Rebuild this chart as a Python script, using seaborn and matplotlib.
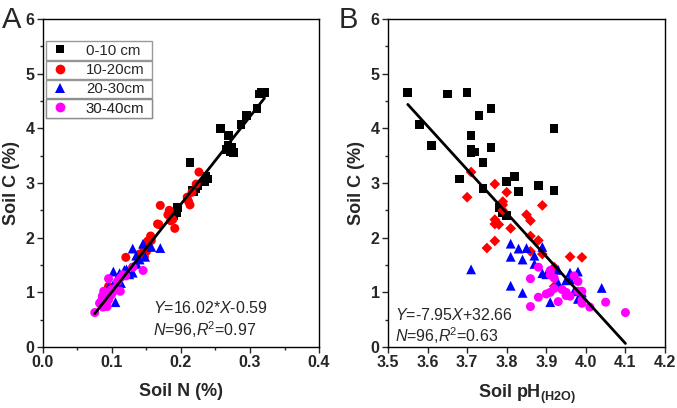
import numpy as np
import pandas as pd
import matplotlib
matplotlib.use("Agg")
import matplotlib.pyplot as plt
from matplotlib.lines import Line2D
from matplotlib.ticker import MultipleLocator
import seaborn as sns

sns.set_style("white")
plt.rcParams['font.family'] = ['Liberation Sans', 'DejaVu Sans']
plt.rcParams['mathtext.fontset'] = 'custom'
plt.rcParams['mathtext.rm'] = 'Liberation Sans'
plt.rcParams['mathtext.it'] = 'Liberation Sans:italic'
plt.rcParams['mathtext.bf'] = 'Liberation Sans:bold'

# ---------------- data ----------------
depths = ["0-10 cm", "10-20cm", "20-30cm", "30-40cm"]

c_0_10 = [4.65, 4.65, 4.63, 4.36, 4.23, 4.07, 4.00, 3.87, 3.69, 3.65, 3.61, 3.57,
          3.56, 3.37, 3.12, 3.07, 3.03, 2.95, 2.90, 2.86, 2.84, 2.55, 2.45, 2.41]
n_0_10 = [0.321, 0.316, 0.314, 0.310, 0.295, 0.287, 0.257, 0.269, 0.268, 0.274, 0.266, 0.272,
          0.276, 0.213, 0.236, 0.239, 0.235, 0.224, 0.222, 0.216, 0.218, 0.195, 0.194, 0.190]
ph_0_10 = [3.55, 3.70, 3.65, 3.76, 3.73, 3.58, 3.92, 3.71, 3.61, 3.76, 3.71, 3.72,
           3.71, 3.74, 3.82, 3.68, 3.80, 3.88, 3.74, 3.92, 3.83, 3.78, 3.79, 3.80]

c_10_20 = [3.20, 2.98, 2.83, 2.74, 2.66, 2.60, 2.59, 2.50, 2.42, 2.33, 2.31, 2.25,
           2.24, 2.17, 2.03, 1.95, 1.94, 1.81, 1.75, 1.70, 1.65, 1.64, 1.46, 1.11]
n_10_20 = [0.226, 0.222, 0.216, 0.209, 0.211, 0.213, 0.170, 0.183, 0.181, 0.188, 0.185, 0.166,
           0.168, 0.191, 0.156, 0.157, 0.152, 0.146, 0.150, 0.140, 0.147, 0.120, 0.130, 0.095]
ph_10_20 = [3.71, 3.77, 3.80, 3.70, 3.79, 3.79, 3.89, 3.79, 3.85, 3.77, 3.86, 3.77,
            3.78, 3.81, 3.86, 3.88, 3.77, 3.75, 3.86, 3.89, 3.96, 3.99, 3.92, 3.92]

c_20_30 = [1.89, 1.83, 1.81, 1.80, 1.67, 1.65, 1.60, 1.52, 1.42, 1.41, 1.38, 1.36,
           1.35, 1.33, 1.24, 1.22, 1.17, 1.12, 1.08, 1.02, 1.00, 0.99, 0.88, 0.82]
n_20_30 = [0.145, 0.157, 0.170, 0.130, 0.135, 0.148, 0.140, 0.136, 0.121, 0.118, 0.102, 0.130,
           0.111, 0.125, 0.108, 0.106, 0.113, 0.101, 0.095, 0.092, 0.098, 0.088, 0.083, 0.105]
ph_20_30 = [3.81, 3.89, 3.85, 3.83, 3.87, 3.81, 3.84, 3.87, 3.71, 3.93, 3.98, 3.96,
            3.89, 3.90, 3.96, 3.95, 3.93, 3.81, 4.04, 3.97, 3.99, 3.84, 3.98, 3.91]

c_30_40 = [1.46, 1.40, 1.32, 1.30, 1.26, 1.25, 1.20, 1.07, 1.05, 1.02, 1.02, 1.00,
           1.00, 0.97, 0.94, 0.93, 0.91, 0.86, 0.83, 0.82, 0.80, 0.74, 0.73, 0.63]
n_30_40 = [0.130, 0.145, 0.116, 0.120, 0.112, 0.095, 0.108, 0.104, 0.099, 0.112, 0.088, 0.094,
           0.101, 0.090, 0.098, 0.086, 0.092, 0.095, 0.084, 0.089, 0.082, 0.093, 0.087, 0.075]
ph_30_40 = [3.88, 3.91, 3.91, 3.97, 3.92, 3.86, 3.98, 3.92, 3.94, 3.98, 3.99, 3.91,
            3.95, 3.90, 3.95, 3.96, 3.88, 3.99, 3.93, 4.05, 3.99, 3.86, 4.01, 4.10]

# regression coefficients shown on the chart
slope_a, icpt_a = 16.02, -0.59
slope_b, icpt_b = -7.95, 32.66

x_ticks_a = [0.0, 0.1, 0.2, 0.3, 0.4]
x_ticks_b = [3.5, 3.6, 3.7, 3.8, 3.9, 4.0, 4.1, 4.2]
y_ticks = [0, 1, 2, 3, 4, 5, 6]

# ---------------- table ----------------
frames = []
for d, c, n, ph in zip(depths,
                       [c_0_10, c_10_20, c_20_30, c_30_40],
                       [n_0_10, n_10_20, n_20_30, n_30_40],
                       [ph_0_10, ph_10_20, ph_20_30, ph_30_40]):
    frames.append(pd.DataFrame({"depth": d, "C": c, "N": n, "pH": ph}))
df = pd.concat(frames, ignore_index=True)

palette = {"0-10 cm": "#000000", "10-20cm": "#ff0000",
           "20-30cm": "#0000ff", "30-40cm": "#ff00ff"}
markers_a = {"0-10 cm": "s", "10-20cm": "o", "20-30cm": "^", "30-40cm": "o"}
markers_b = {"0-10 cm": "s", "10-20cm": "D", "20-30cm": "^", "30-40cm": "o"}
sizes = {"s": 38, "o": 42, "^": 50, "D": 30}

fig = plt.figure(figsize=(6.77, 4.08), dpi=100)
axA = fig.add_axes([0.0635, 0.1495, 0.4077, 0.804])
axB = fig.add_axes([0.5731, 0.1495, 0.4092, 0.804])

for d in depths:
    sub = df[df.depth == d]
    m = markers_a[d]
    sns.scatterplot(data=sub, x="N", y="C", color=palette[d], marker=m,
                    s=sizes[m], edgecolor="none", linewidth=0, ax=axA,
                    legend=False, zorder=2)
    m = markers_b[d]
    sns.scatterplot(data=sub, x="pH", y="C", color=palette[d], marker=m,
                    s=sizes[m], edgecolor="none", linewidth=0, ax=axB,
                    legend=False, zorder=2)

xa = np.array([df.N.min(), df.N.max()])
axA.plot(xa, slope_a * xa + icpt_a, color="black", lw=2, zorder=3)
xb = np.array([df.pH.min(), df.pH.max()])
axB.plot(xb, slope_b * xb + icpt_b, color="black", lw=2, zorder=3)

for ax, xt in [(axA, x_ticks_a), (axB, x_ticks_b)]:
    ax.set_xlim(xt[0], xt[-1])
    ax.set_ylim(0, 6)
    ax.set_xticks(xt)
    ax.set_yticks(y_ticks)
    ax.yaxis.set_minor_locator(MultipleLocator(0.5))
    ax.set_xticklabels([f"{v:.1f}" for v in xt], fontsize=11.5, fontweight="bold")
    ax.set_yticklabels([str(v) for v in y_ticks], fontsize=11.5, fontweight="bold")
    ax.tick_params(which="major", direction="out", length=4, width=1,
                   bottom=True, left=True, top=False, right=False, pad=2)
    ax.tick_params(which="minor", direction="out", length=2.5, width=1,
                   bottom=True, left=True, top=False, right=False)
    for sp in ax.spines.values():
        sp.set_visible(True)
        sp.set_color("black")
        sp.set_linewidth(1)
    ax.set_ylabel("Soil C (%)", fontsize=13, fontweight="bold", labelpad=4)
    ax.grid(False)

axA.xaxis.set_minor_locator(MultipleLocator(0.05))
axA.set_xlabel("Soil N (%)", fontsize=13, fontweight="bold", labelpad=9)
axB.set_xlabel(r"Soil pH$_{\mathbf{(H2O)}}$", fontsize=13, fontweight="bold", labelpad=9)

axA.text(0.160, 0.62, r"$\it{Y}$=16.02*$\it{X}$-0.59", fontsize=11.5)
axA.text(0.160, 0.20, r"$\it{N}$=96,$\it{R}$$^2$=0.97", fontsize=11.5)
axB.text(3.518, 0.50, r"$\it{Y}$=-7.95$\it{X}$+32.66", fontsize=11.5)
axB.text(3.518, 0.10, r"$\it{N}$=96,$\it{R}$$^2$=0.63", fontsize=11.5)

# Origin-style legend: each entry in its own box
row_h = 0.059
top = 0.873
for i, d in enumerate(depths):
    m = markers_a[d]
    h = Line2D([], [], marker=m, color=palette[d], linestyle="none",
               markersize={"s": 6, "o": 7, "^": 7.5}[m], markeredgewidth=0)
    leg = axA.legend([h], [d], loc="upper left",
                     bbox_to_anchor=(0.011, top - i * row_h, 0.384, row_h),
                     mode="expand", fontsize=10.8, frameon=True, fancybox=False,
                     borderpad=0.15, handletextpad=0.9, handlelength=1.6,
                     borderaxespad=0)
    leg.get_frame().set_edgecolor("#808080")
    leg.get_frame().set_linewidth(1.0)
    axA.add_artist(leg)

fig.text(0.003, 0.985, "A", fontsize=21, va="top", ha="left")
fig.text(0.500, 0.985, "B", fontsize=21, va="top", ha="left")

fig.savefig("out.png", dpi=100)
